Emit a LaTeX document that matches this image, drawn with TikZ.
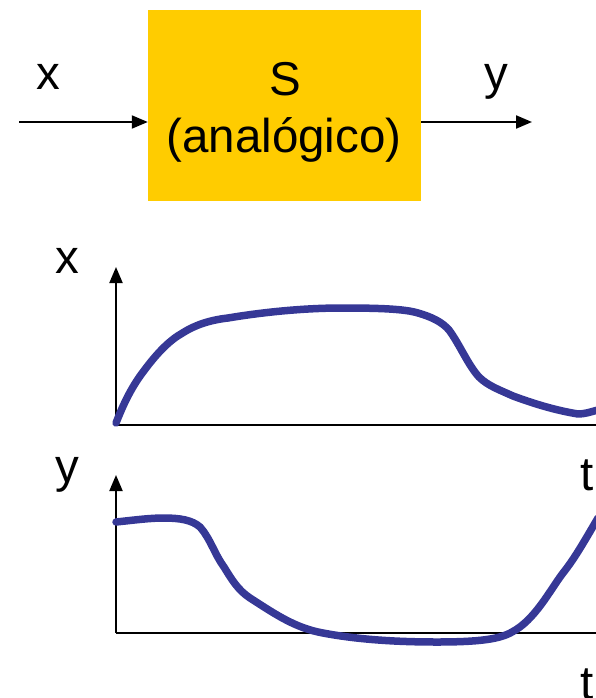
\documentclass[tikz,border=0pt]{standalone}
\usepackage{fontspec}
\setmainfont{Liberation Sans}
\usetikzlibrary{arrows.meta}
\definecolor{boxyellow}{HTML}{FFCC00}
\definecolor{curveblue}{HTML}{363896}
\tikzset{
  lbl/.style={inner sep=0pt, anchor=base, font=\fontsize{47.5}{52}\selectfont},
  conn/.style={line width=2pt, -{Triangle[length=16pt,width=13pt]}},
  axisline/.style={line width=2pt},
  sig/.style={line width=7.5pt, curveblue, line cap=round, line join=round},
}
\begin{document}
\begin{tikzpicture}[x=1pt,y=-1pt]
\useasboundingbox (0,0) rectangle (596,698);
% system block
\node (sys) [fill=boxyellow, minimum width=273pt, minimum height=191pt, inner sep=0pt] at (284.5,105.5) {};
\node (S) [lbl] at (285,96) {S};
\node (an) [lbl] at (284,152) {(analógico)};
\coordinate (in) at (19,122);
\coordinate (out) at (532,122);
\node (xl) [lbl] at (48,90) {x};
\node (yl) [lbl] at (496,90) {y};
\draw[conn] (in) -- (in -| sys.west);
\draw[conn] (out -| sys.east) -- (out);
% plot 1
\coordinate (o1) at (116,425);
\coordinate (t1) at (116,267);
\coordinate (e1) at (596,425);
\draw[axisline] (o1) -- (e1);
\draw[conn] (o1) -- (t1);
\node (px) [lbl] at (67,273) {x};
\draw[sig] (116,423) .. controls (125,400) and (133,385) .. (144.5,370)
  .. controls (158,352) and (170,340) .. (182.5,333)
  .. controls (195,325) and (210,320) .. (228,318)
  .. controls (270,311) and (310,308) .. (342,308)
  .. controls (380,308) and (405,309) .. (418,313)
  .. controls (432,317) and (442,322) .. (449,330)
  .. controls (460,345) and (468,365) .. (479,377)
  .. controls (488,386) and (500,390) .. (513,396)
  .. controls (540,406) and (560,411) .. (578,414)
  .. controls (585,414) and (590,412) .. (598,410);
% plot 2
\coordinate (o2) at (116,633);
\coordinate (t2) at (116,475);
\coordinate (e2) at (596,633);
\draw[axisline] (o2) -- (e2);
\draw[conn] (o2) -- (t2);
\node (py) [lbl] at (67,482) {y};
\node (tt1) [lbl] at (587,490) {t};
\node (tt2) [lbl] at (587,699) {t};
\draw[sig] (116,522) .. controls (135,520) and (150,518) .. (163.5,518)
  .. controls (180,518) and (192,520) .. (200,527)
  .. controls (210,538) and (215,555) .. (224,567)
  .. controls (232,580) and (238,590) .. (250,598)
  .. controls (275,614) and (295,628) .. (323,633)
  .. controls (360,640) and (400,642) .. (437,642)
  .. controls (480,642) and (500,639) .. (512,632)
  .. controls (535,620) and (550,590) .. (563,573)
  .. controls (575,558) and (585,540) .. (598,518);
\end{tikzpicture}
\end{document}
